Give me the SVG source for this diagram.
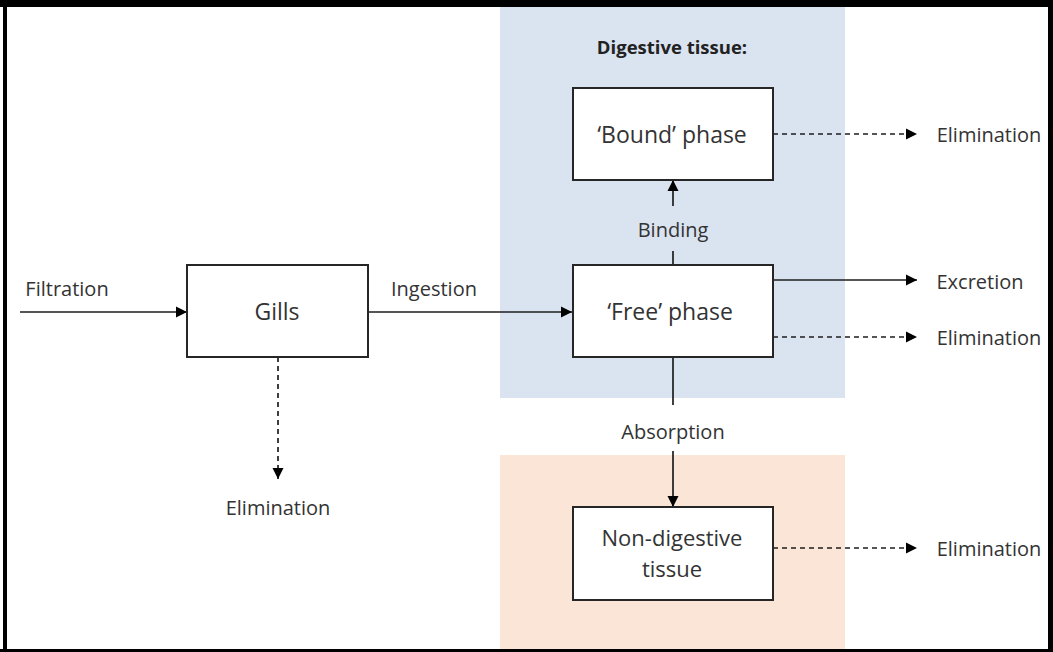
<svg xmlns="http://www.w3.org/2000/svg" width="1053" height="652" viewBox="0 0 1053 652">
<style>
.box{fill:#fff;stroke:#262626;stroke-width:2}
.t{font-family:"Open Sans","Liberation Sans",sans-serif;fill:#333;text-anchor:middle;dominant-baseline:central}
.lbl{font-size:20px}
.bt{font-size:23px}
.ln{fill:none;stroke:#1e1e1e;stroke-width:1.7}
.dash{stroke-dasharray:5 4}
</style>
<defs>
<marker id="ah" viewBox="0 0 10 10" refX="10" refY="5" markerWidth="11" markerHeight="12" markerUnits="userSpaceOnUse" orient="auto">
<path d="M0,0 L10,5 L0,10 z" fill="#000"/>
</marker>
</defs>
<rect x="0" y="0" width="1053" height="652" fill="#fff"/>
<g id="regions">
<rect x="500" y="7" width="345" height="391" fill="#dae3f0"/>
<rect x="500" y="455" width="345" height="195" fill="#fbe5d6"/>
<text class="t" x="672" y="46" style="font-size:18.5px;font-weight:bold;fill:#222">Digestive tissue:</text>
</g>
<g id="frame" fill="#000">
<rect x="0" y="0" width="1053" height="7"/>
<rect x="3" y="0" width="4" height="652"/>
<rect x="1048" y="0" width="5" height="652"/>
<rect x="0" y="649" width="1053" height="3"/>
</g>
<g id="connectors">
<path class="ln" d="M20,312 H187" marker-end="url(#ah)"/>
<text class="t lbl" x="67" y="288">Filtration</text>
<path class="ln" d="M368,312 H572" marker-end="url(#ah)"/>
<text class="t lbl" x="434" y="288">Ingestion</text>
<path class="ln dash" d="M278,357 V479" marker-end="url(#ah)"/>
<text class="t lbl" x="278" y="507">Elimination</text>
<path class="ln" d="M673,265 V251"/>
<path class="ln" d="M673,206 V180" marker-end="url(#ah)"/>
<text class="t lbl" x="673" y="229">Binding</text>
<path class="ln" d="M673,357 V405"/>
<text class="t lbl" x="673" y="431">Absorption</text>
<path class="ln" d="M673,451 V507" marker-end="url(#ah)"/>
<path class="ln dash" d="M773,134 H917" marker-end="url(#ah)"/>
<text class="t lbl" x="989" y="134">Elimination</text>
<path class="ln" d="M773,280 H917" marker-end="url(#ah)"/>
<text class="t lbl" x="980" y="281">Excretion</text>
<path class="ln dash" d="M773,337 H917" marker-end="url(#ah)"/>
<text class="t lbl" x="989" y="337">Elimination</text>
<path class="ln dash" d="M773,548 H917" marker-end="url(#ah)"/>
<text class="t lbl" x="989" y="548">Elimination</text>
</g>
<g id="gills">
<rect class="box" x="187" y="265" width="181" height="92"/>
<text class="t bt" x="277" y="311">Gills</text>
</g>
<g id="bound">
<rect class="box" x="573" y="88" width="200" height="92"/>
<text class="t bt" x="672" y="134">‘Bound’ phase</text>
</g>
<g id="free">
<rect class="box" x="573" y="265" width="200" height="92"/>
<text class="t bt" x="670" y="311">‘Free’ phase</text>
</g>
<g id="nondigestive">
<rect class="box" x="573" y="507" width="200" height="93"/>
<text class="t bt" x="672" y="537" style="font-size:22px">Non-digestive</text>
<text class="t bt" x="672" y="568" style="font-size:22px">tissue</text>
</g>
</svg>
